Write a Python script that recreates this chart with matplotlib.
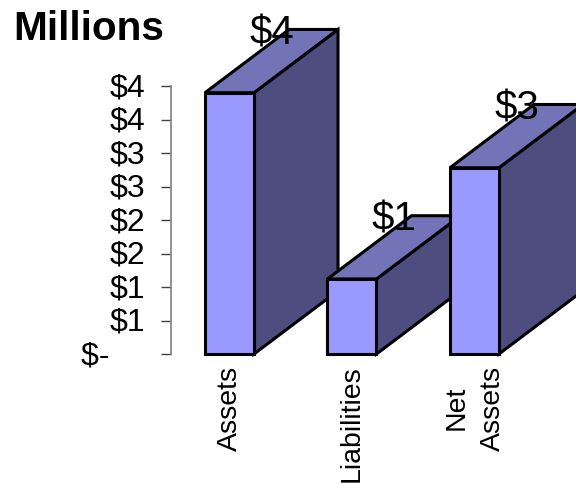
import matplotlib
matplotlib.use('Agg')
import matplotlib.pyplot as plt
from matplotlib.patches import Polygon
from matplotlib.transforms import ScaledTranslation

plt.rcParams['font.family'] = ['Liberation Sans', 'DejaVu Sans']

categories = ['Assets', 'Liabilities', 'Net\nAssets']
values = [3.90, 1.12, 2.78]
bar_labels = ['$4', '$1', '$3']
tick_values = [0, 0.5, 1, 1.5, 2, 2.5, 3, 3.5, 4]
tick_labels = ['$-    ', '$1', '$1', '$2', '$2', '$3', '$3', '$4', '$4']

fig = plt.figure(figsize=(5.76, 4.85), dpi=100)
ax = fig.add_axes([171 / 576, 130 / 485, 405 / 576, 268 / 485])
ax.set_xlim(-0.4776, 2.829)
ax.set_ylim(0, 4)

# box geometry in data units
half = 0.2
depth_x = 0.686
depth_y = 0.944

for i, v in enumerate(values):
    l, r = i - half, i + half
    front = [(l, 0), (r, 0), (r, v), (l, v)]
    top = [(l, v), (r, v), (r + depth_x, v + depth_y), (l + depth_x, v + depth_y)]
    side = [(r, 0), (r + depth_x, depth_y), (r + depth_x, v + depth_y), (r, v)]
    z = 3 + i
    ax.add_patch(Polygon(side, fc='#4d4d7f', ec='black', lw=2.2, joinstyle='miter', clip_on=False, zorder=z))
    ax.add_patch(Polygon(top, fc='#7373b8', ec='black', lw=2.2, joinstyle='miter', clip_on=False, zorder=z))
    ax.add_patch(Polygon(front, fc='#9999ff', ec='black', lw=2.2, joinstyle='miter', clip_on=False, zorder=z))

for i, v in enumerate(values):
    ax.annotate(bar_labels[i], (i + depth_x / 2, v + depth_y), xytext=(0, -2), textcoords='offset points',
                fontsize=29, ha='center', va='center', color='black', zorder=10, annotation_clip=False)

for s in ['top', 'right', 'bottom']:
    ax.spines[s].set_visible(False)
ax.spines['left'].set_color('#808080')
ax.spines['left'].set_linewidth(1.2)

ax.set_yticks(tick_values)
ax.set_yticklabels(tick_labels, fontsize=23)
ax.tick_params(axis='y', length=7, width=1, color='#404040', pad=11.5)
# nudge the dollar labels up a little
for lab in ax.get_yticklabels():
    lab.set_transform(lab.get_transform() + ScaledTranslation(0, 1.5 / 72, fig.dpi_scale_trans))

ax.set_xticks([0, 1, 2])
ax.set_xticklabels(categories, rotation=90, fontsize=20.5, ha='center', va='top', multialignment='center', linespacing=1.5)
ax.tick_params(axis='x', length=0, pad=7.5)

fig.text(13 / 576, 1 - 29 / 485, 'Millions', fontsize=29.2, fontweight='bold', va='center', ha='left')

fig.savefig('out.png', dpi=100)
